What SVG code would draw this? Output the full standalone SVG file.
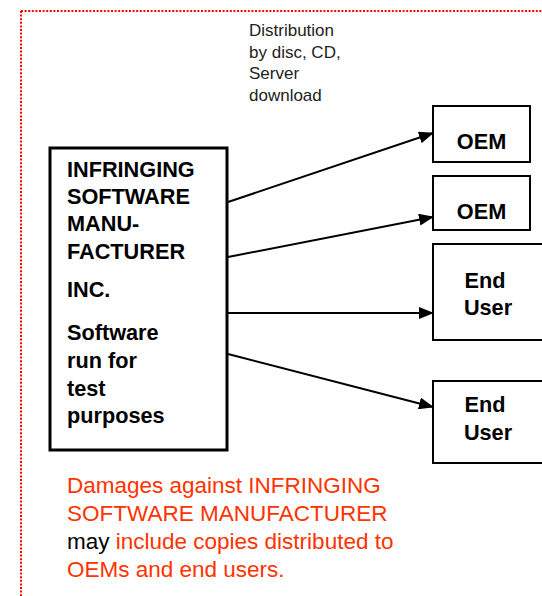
<svg xmlns="http://www.w3.org/2000/svg" width="542" height="596" viewBox="0 0 542 596">
  <style>
    .node rect { fill: #ffffff; stroke: #000000; }
    .bold { font-family: "Liberation Sans", Arial, sans-serif; font-weight: bold; font-size: 21.7px; fill: #000000; }
    .note { font-family: "Liberation Sans", Arial, sans-serif; font-size: 17px; fill: #222222; }
    .damages { font-family: "Liberation Sans", Arial, sans-serif; font-size: 22.5px; fill: #ff3300; }
    .conn line { stroke: #000000; stroke-width: 2; marker-end: url(#arrow); }
  </style>
  <defs>
    <marker id="arrow" markerWidth="15" markerHeight="12" refX="14" refY="6" orient="auto" markerUnits="userSpaceOnUse">
      <path d="M0,0 L15,6 L0,12 Z" fill="#000000"/>
    </marker>
  </defs>

  <rect width="542" height="596" fill="#ffffff"/>

  <!-- dotted red frame, open to the right and bottom -->
  <rect x="21" y="11" width="560" height="620" fill="none" stroke="#ff0000" stroke-width="2" stroke-dasharray="2,1.6"/>

  <!-- distribution channel note -->
  <text class="note">
    <tspan x="249" y="36">Distribution</tspan>
    <tspan x="249" y="58">by disc, CD,</tspan>
    <tspan x="249" y="79">Server</tspan>
    <tspan x="249" y="101">download</tspan>
  </text>

  <g id="manufacturer" class="node">
    <rect x="50" y="148" width="177" height="302" stroke-width="3"/>
    <text class="bold">
      <tspan x="67" y="177">INFRINGING</tspan>
      <tspan x="67" y="204">SOFTWARE</tspan>
      <tspan x="67" y="231">MANU-</tspan>
      <tspan x="67" y="259">FACTURER</tspan>
      <tspan x="67" y="297">INC.</tspan>
      <tspan x="67" y="340">Software</tspan>
      <tspan x="67" y="368">run for</tspan>
      <tspan x="67" y="396">test</tspan>
      <tspan x="67" y="423">purposes</tspan>
    </text>
  </g>

  <g id="oem1" class="node">
    <rect x="433" y="106" width="97" height="56" stroke-width="2"/>
    <text class="bold" x="481.5" y="149" text-anchor="middle">OEM</text>
  </g>

  <g id="oem2" class="node">
    <rect x="433" y="176" width="97" height="54" stroke-width="2"/>
    <text class="bold" x="481.5" y="219" text-anchor="middle">OEM</text>
  </g>

  <g id="enduser1" class="node">
    <rect x="433" y="244" width="112" height="96" stroke-width="2"/>
    <text class="bold" text-anchor="middle">
      <tspan x="488" y="288">End</tspan>
      <tspan x="488" y="315">User</tspan>
    </text>
  </g>

  <g id="enduser2" class="node">
    <rect x="433" y="381" width="112" height="82" stroke-width="2"/>
    <text class="bold" text-anchor="middle">
      <tspan x="488" y="412">End</tspan>
      <tspan x="488" y="440">User</tspan>
    </text>
  </g>

  <g id="connectors" class="conn">
    <line x1="228" y1="202" x2="433" y2="133"/>
    <line x1="228" y1="257" x2="433" y2="217"/>
    <line x1="228" y1="313" x2="433" y2="313"/>
    <line x1="228" y1="354" x2="433" y2="407"/>
  </g>

  <!-- damages statement -->
  <text class="damages">
    <tspan x="67" y="493">Damages against INFRINGING</tspan>
    <tspan x="67" y="521">SOFTWARE MANUFACTURER</tspan>
    <tspan x="67" y="549"><tspan fill="#000000">may</tspan> include copies distributed to</tspan>
    <tspan x="67" y="577">OEMs and end users.</tspan>
  </text>
</svg>
